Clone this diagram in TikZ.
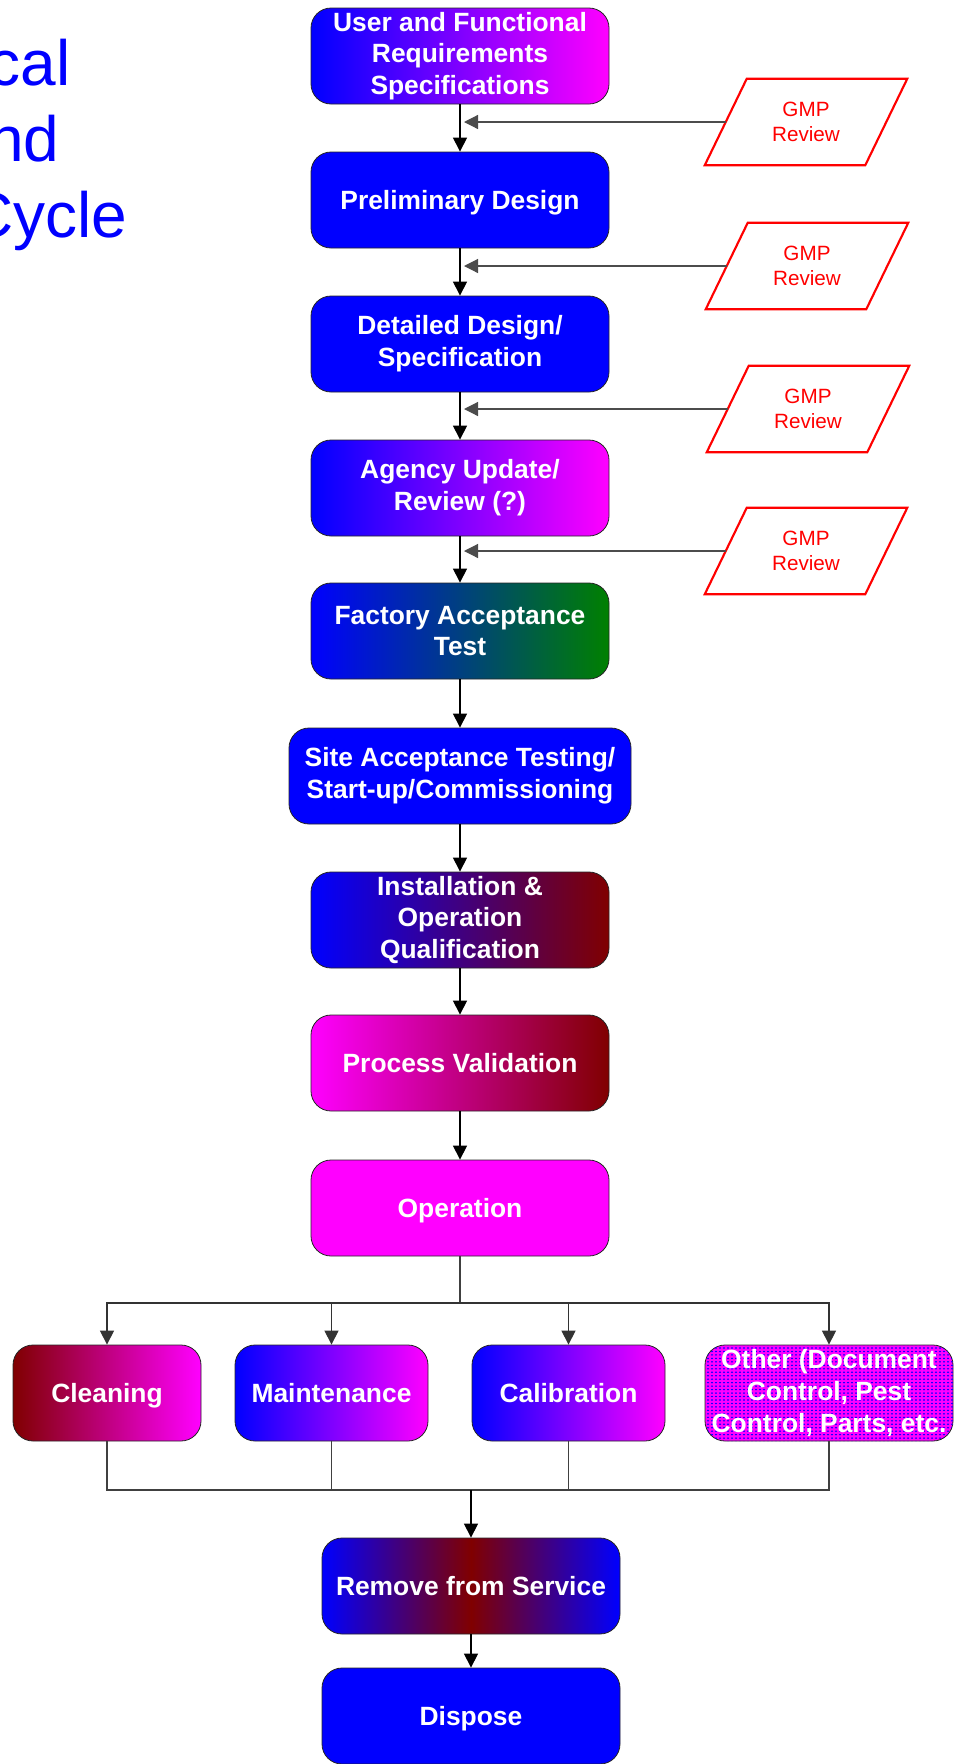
\documentclass[tikz,border=0pt]{standalone}
\usepackage{fontspec}
\setmainfont{Liberation Sans}
\usetikzlibrary{arrows.meta,patterns}
\definecolor{maroon}{RGB}{128,0,0}
\definecolor{dkgreen}{RGB}{0,128,0}
\definecolor{pblue}{RGB}{0,0,255}
\definecolor{pmag}{RGB}{255,0,255}
\pgfdeclarepatternformonly{bdots}{\pgfqpoint{-1pt}{-1pt}}{\pgfqpoint{4pt}{4pt}}{\pgfqpoint{3pt}{2.6pt}}{%
  \pgfpathellipse{\pgfqpoint{0pt}{0pt}}{\pgfqpoint{0.85pt}{0pt}}{\pgfqpoint{0pt}{0.6pt}}%
  \pgfusepath{fill}}
\begin{document}
\begin{tikzpicture}[x=0.75pt,y=-0.75pt,
  box/.style={rectangle, rounded corners=15pt, draw=black!85, line width=0.6pt,
    minimum width=223.5pt, minimum height=72pt, inner sep=0pt, align=center,
    text=white, font=\fontsize{19.8}{23.8}\selectfont\bfseries},
  one/.style={text height=16pt, text depth=2pt},
  solidblue/.style={fill=pblue},
  bm/.style={left color=pblue, right color=pmag},
  gmp/.style={rectangle, minimum width=120pt, minimum height=64.5pt, inner sep=0pt,
    align=center, text=red, font=\fontsize{15.5}{19}\selectfont},
  ttl/.style={anchor=base east, inner sep=0pt, text=pblue, font=\fontsize{48}{57}\selectfont},
  arr/.style={draw=black, line width=0.8pt, -{Triangle[width=10.5pt,length=10.5pt]}},
  garr/.style={draw=black!70, line width=0.9pt, -{Triangle[width=10.5pt,length=10.5pt]}},
  ln/.style={draw=black!75, line width=0.8pt},
]
\useasboundingbox (0,0) rectangle (954,1764);
\clip (0,0) rectangle (954,1764);

% title fragments
\node[ttl] (t1) at (71,85) {cal};
\node[ttl] (t2) at (59.5,161) {nd};
\node[ttl] (t3) at (127.5,237) {Cycle};

% main column
\node[box, bm] (b1) at (460,56) {User and Functional\\Requirements\\Specifications};
\node[box, solidblue, one] (b2) at (460,200) {Preliminary Design};
\node[box, solidblue] (b3) at (460,344) {Detailed Design/\\Specification};
\node[box, bm] (b4) at (460,488) {Agency Update/\\Review (?)};
\node[box, left color=pblue, right color=dkgreen] (b5) at (460,631) {Factory Acceptance\\Test};
\node[box, solidblue, minimum width=256.5pt] (b6) at (460,776) {Site Acceptance Testing/\\Start-up/Commissioning};
\node[box, left color=pblue, right color=maroon] (b7) at (460,920) {Installation \&\\Operation\\Qualification};
\node[box, left color=pmag, right color=maroon, one] (b8) at (460,1063) {Process Validation};
\node[box, fill=pmag, one] (b9) at (460,1208) {Operation};

% bottom row
\node[box, left color=maroon, right color=pmag, minimum width=141pt, one] (cl) at (107,1393) {Cleaning};
\node[box, bm, minimum width=144.75pt, one] (mt) at (331.5,1393) {Maintenance};
\node[box, bm, minimum width=144.75pt, one] (ca) at (568.5,1393) {Calibration};
\node[box, fill=pmag, postaction={pattern=bdots, pattern color=pblue}, minimum width=186pt] (ot) at (829,1393) {Other (Document\\Control, Pest\\Control, Parts, etc.};

\node[box, left color=pblue, right color=pblue, middle color=maroon, one] (rm) at (471,1586) {Remove from Service};
\node[box, solidblue, one] (dp) at (471,1716) {Dispose};

% GMP review parallelograms
\node[gmp] (g1) at (806,122) {GMP\\Review};
\node[gmp] (g2) at (807,266) {GMP\\Review};
\node[gmp] (g3) at (808,409) {GMP\\Review};
\node[gmp] (g4) at (806,551) {GMP\\Review};
\foreach \g in {g1,g2,g3,g4}{
  \draw[red, line width=1.6pt, line join=miter]
    ([shift={(-21,0)}]\g.south west) -- ([shift={(-21,0)}]\g.south east)
    -- ([shift={(21,0)}]\g.north east) -- ([shift={(21,0)}]\g.north west) -- cycle;
}

% main connectors
\foreach \a/\b in {b1/b2,b2/b3,b3/b4,b4/b5,b5/b6,b6/b7,b7/b8,b8/b9,rm/dp}{
  \draw[arr] (\a.south) -- (\b.north);
}
\foreach \g/\b in {g1/b1,g2/b2,g3/b3,g4/b4}{
  \draw[garr] (\g.west) -- ([xshift=3pt]\g.west -| \b.south);
}

% split and merge
\coordinate (sp) at (460,1303);
\coordinate (jn) at (471,1490);
\draw[ln] (b9.south) -- (sp);
\foreach \n in {cl,mt,ca,ot}{
  \draw[arr, draw=black!80] (sp) -| (\n.north);
  \draw[ln] (\n.south) |- (jn);
}
\draw[arr] (jn) -- (rm.north);
\end{tikzpicture}
\end{document}
